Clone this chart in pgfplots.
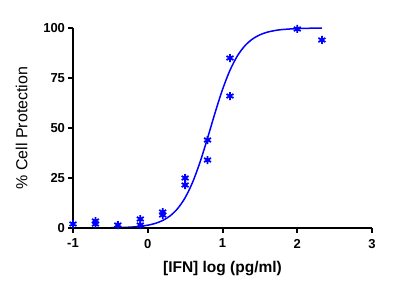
\documentclass[border=0pt]{standalone}
\usepackage{fontspec}
\setmainfont{Liberation Sans}
\usepackage{pgfplots}
\pgfplotsset{compat=1.18}
\begin{document}
\begin{tikzpicture}
\path[use as bounding box] (-73pt,-64pt) rectangle (346pt,228pt);
\begin{axis}[
  scale only axis, width=299pt, height=200pt,
  at={(0,0)}, anchor=south west,
  xmin=-1, xmax=3, ymin=0, ymax=100,
  axis lines=left,
  axis line style={line width=2pt, -},
  xtick={-1,0,1,2,3}, ytick={0,25,50,75,100},
  tick align=outside, major tick length=4.5pt,
  tick style={line width=2pt, black},
  /pgf/number format/assume math mode=true,
  tick label style={font=\bfseries\fontsize{13}{15}\selectfont},
  xticklabel style={yshift=-3pt},
  yticklabel style={xshift=0pt},
  xlabel style={font=\bfseries\fontsize{15.5}{18}\selectfont, yshift=-6pt},
  ylabel style={font=\fontsize{16}{19}\selectfont, yshift=9pt},
  xlabel={[IFN] log (pg/ml)},
  ylabel={\% Cell Protection},
  clip=false,
  axis on top,
]
\addplot[blue, line width=1.5pt, no marks, smooth] coordinates {
(-1.0,0.009) (-0.8,0.025) (-0.6,0.068) (-0.4,0.187) (-0.3,0.31) (-0.2,0.51)
(-0.1,0.85) (0.0,1.40) (0.1,2.30) (0.2,3.76) (0.3,6.09) (0.4,9.72)
(0.5,15.15) (0.6,22.87) (0.7,32.98) (0.8,44.95) (0.9,57.54) (1.0,69.22)
(1.1,78.87) (1.2,86.10) (1.3,91.13) (1.4,94.46) (1.5,96.59) (1.6,97.92)
(1.7,98.73) (1.8,99.23) (2.0,99.72) (2.2,99.90) (2.33,99.95)
};
\addplot[only marks, mark=asterisk, mark size=4pt, blue, mark options={line width=1.8pt}] coordinates {
(-1.0,2) (-0.7,3.5) (-0.7,2) (-0.4,1.5) (-0.1,4.5) (-0.1,1.5)
(0.2,8) (0.2,6.5) (0.5,25) (0.5,21.5) (0.8,44) (0.8,34)
(1.1,85) (1.1,66) (2.0,99.5) (2.33,94)
};
\end{axis}
\end{tikzpicture}
\end{document}
